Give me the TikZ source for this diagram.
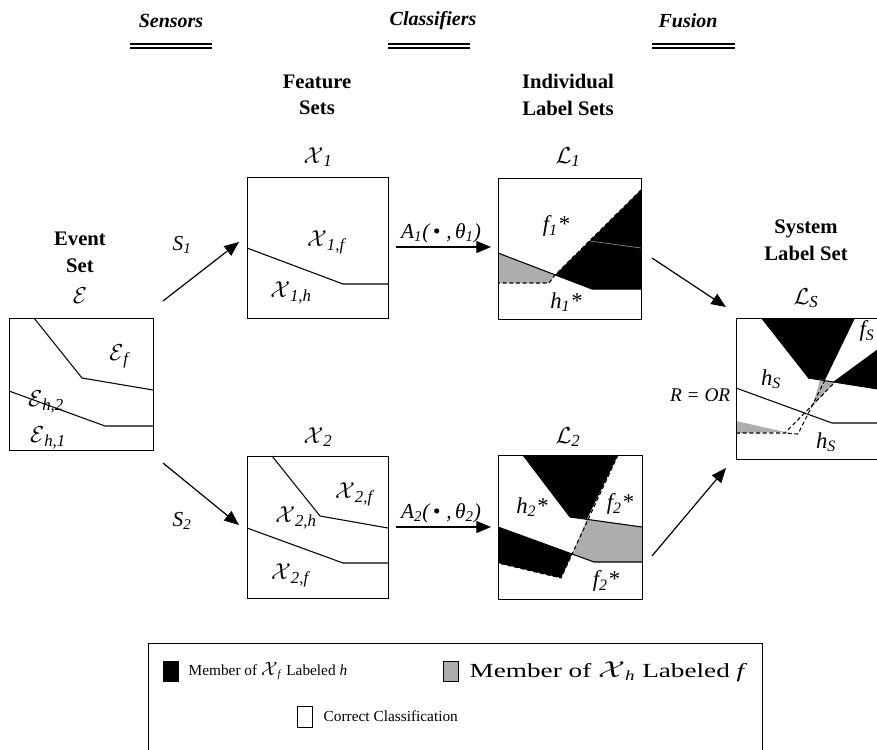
\documentclass[tikz,border=0pt]{standalone}
\usepackage{fontspec}
\usepackage{amsmath}
\setmainfont{Liberation Serif}
\usetikzlibrary{arrows.meta}
\newcommand{\scX}{\mathcal{X}}
\newcommand{\scE}{\mathcal{E}}
\newcommand{\scL}{\mathcal{L}}
\newcommand{\sub}[1]{\textsubscript{\textit{#1}}}
\begin{document}
\begin{tikzpicture}[x=0.75pt,y=-0.75pt,
  frame/.style={draw=black,line width=0.9pt,inner sep=0pt,anchor=north west},
  bound/.style={line width=0.8pt},
  cls/.style={line width=0.8pt,dash pattern=on 3pt off 2pt},
  flow/.style={line width=0.9pt,-{Triangle[length=11pt,width=9pt]}},
  hdr/.style={font=\fontsize{15}{17}\selectfont\bfseries\itshape},
  ttl/.style={font=\fontsize{15.5}{20}\selectfont\bfseries,align=center},
  setlbl/.style={font=\fontsize{18}{20}\selectfont},
  reg/.style={font=\fontsize{18}{20}\selectfont},
  cl/.style={font=\fontsize{17}{19}\selectfont\itshape},
  arrlbl/.style={font=\fontsize{16}{18}\selectfont\itshape},
  leg/.style={font=\fontsize{11.5}{13}\selectfont,anchor=west},
  sq/.style={draw=black,line width=0.7pt},
  dbl/.style={line width=0.8pt}]
\useasboundingbox (0,0) rectangle (877,749);

% ---------- headers ----------
\node[hdr] (hs) at (171,21) {Sensors};
\node[hdr] (hc) at (433,21) {Classifiers};
\node[hdr] (hf) at (688,21) {Fusion};
\draw[dbl] (130,44) -- (212,44) (130,48) -- (212,48);
\draw[dbl] (388,44) -- (470,44) (388,48) -- (470,48);
\draw[dbl] (652,44) -- (735,44) (652,48) -- (735,48);

\node[ttl] (tfeat) at (317,95) {Feature\\Sets};
\node[ttl] (tlab) at (568,95) {Individual\\Label Sets};
\node[ttl] (tev) at (80,252) {Event\\Set};
\node[ttl] (tsys) at (806,240) {System\\Label Set};

\node[setlbl] (sE) at (80,296) {$\scE$};
\node[setlbl] (sX1) at (318,157) {$\scX$\sub{1}};
\node[setlbl] (sL1) at (568,157) {$\scL$\sub{1}};
\node[setlbl] (sX2) at (318,437) {$\scX$\sub{2}};
\node[setlbl] (sL2) at (568,437) {$\scL$\sub{2}};
\node[setlbl] (sLS) at (806,298) {$\scL$\sub{S}};

% ---------- event box ----------
\begin{scope}[shift={(9,318)}]
  \draw[bound] (25,0) -- (73,60) -- (144,72);
  \draw[bound] (0,73) -- (96,108) -- (144,108);
\end{scope}
\node[frame,minimum width=108pt,minimum height=99pt] (ev) at (9,318) {};
\node[reg] (eEf) at (120,356) {$\scE$\sub{f}};
\node[reg] (eEh2) at (46,402) {$\scE$\sub{h,2}};
\node[reg] (eEh1) at (48,438) {$\scE$\sub{h,1}};

% ---------- feature box 1 ----------
\begin{scope}[shift={(247,177)}]
  \draw[bound] (0,71) -- (96,107) -- (141,107);
\end{scope}
\node[frame,minimum width=105.75pt,minimum height=105.75pt] (f1) at (247,177) {};
\node[reg] (x1f) at (327,242) {$\scX$\sub{1,f}};
\node[reg] (x1h) at (291,293) {$\scX$\sub{1,h}};

% ---------- feature box 2 ----------
\begin{scope}[shift={(247,456)}]
  \draw[bound] (25,0) -- (73,60) -- (141,72);
  \draw[bound] (0,72) -- (96,107) -- (141,107);
\end{scope}
\node[frame,minimum width=105.75pt,minimum height=106.5pt] (f2) at (247,456) {};
\node[reg] (x2fa) at (355,494) {$\scX$\sub{2,f}};
\node[reg] (x2h) at (296,518) {$\scX$\sub{2,h}};
\node[reg] (x2fb) at (291,575) {$\scX$\sub{2,f}};

% ---------- label box 1 ----------
\begin{scope}[shift={(498,178)}]
  \fill[black] (57,97) -- (143,12) -- (143,111) -- (94,111) -- cycle;
  \fill[black!32] (0,75) -- (57,97) -- (51,105) -- (0,105) -- cycle;
  \draw[black!45,line width=0.5pt] (92,63) -- (143,70);
  \draw[bound] (0,75) -- (94,111) -- (143,111);
  \draw[cls] (143,12) -- (57,97) -- (51,105) -- (0,105);
\end{scope}
\node[frame,minimum width=107.25pt,minimum height=105.75pt] (l1) at (498,178) {};
\node[cl] (f1s) at (556,226) {f\sub{1}*};
\node[cl] (h1s) at (566,302) {h\sub{1}*};

% ---------- label box 2 ----------
\begin{scope}[shift={(498,455)}]
  \fill[black] (25,0) -- (72,62) -- (89,64) -- (120,0) -- cycle;
  \fill[black] (0,72) -- (74,99) -- (63,123) -- (0,108) -- cycle;
  \fill[black!32] (89,64) -- (144,72) -- (144,107) -- (96,107) -- (74,99) -- cycle;
  \draw[bound] (25,0) -- (72,62) -- (144,72);
  \draw[bound] (0,72) -- (96,107) -- (144,107);
  \draw[cls] (120,0) -- (63,123) -- (0,108);
\end{scope}
\node[frame,minimum width=108pt,minimum height=108pt] (l2) at (498,455) {};
\node[cl] (h2s) at (532,507) {h\sub{2}*};
\node[cl] (f2sa) at (620,504) {f\sub{2}*};
\node[cl] (f2sb) at (606,581) {f\sub{2}*};

% ---------- system box ----------
\begin{scope}[shift={(736,318)}]
  \begin{scope}
    \clip (0,0) rectangle (142,141);
    \fill[black] (25,0) -- (72,60) -- (89,62) -- (119,0) -- cycle;
    \fill[black] (97,64) -- (142,31) -- (142,71) -- cycle;
    \fill[black!32] (84,62) -- (99,64) -- (77,87) -- cycle;
    \fill[black!32] (0,103) -- (49,114) -- (0,115) -- cycle;
  \end{scope}
  \draw[bound] (72,60) -- (142,71);
  \draw[bound] (0,70) -- (96,105) -- (142,105);
  \draw[cls] (0,115) -- (49,115) -- (99,64);
  \draw[cls] (89,62) -- (62,116) -- (49,115);
\end{scope}
\node[frame,minimum width=106.5pt,minimum height=105.75pt] (sy) at (736,318) {};
\node[cl] (hsa) at (771,379) {h\sub{S}};
\node[cl] (hsb) at (826,442) {h\sub{S}};
\node[cl] (fsl) at (867,331) {f\sub{S}};
\node[arrlbl,font=\fontsize{14.5}{16}\selectfont\itshape,anchor=east] (ror) at (735,395) {R = OR};

% ---------- arrows ----------
\coordinate (s1a) at (163,301); \coordinate (s1b) at (239,242);
\coordinate (s2a) at (163,463); \coordinate (s2b) at (239,525);
\coordinate (a1a) at (396,247); \coordinate (a1b) at (491,247);
\coordinate (a2a) at (396,527); \coordinate (a2b) at (491,527);
\coordinate (r1a) at (652,258); \coordinate (r1b) at (726,307);
\coordinate (r2a) at (652,556); \coordinate (r2b) at (726,468);
\draw[flow] (s1a) -- (s1b);
\draw[flow] (s2a) -- (s2b);
\draw[flow] (a1a) -- (a1b);
\draw[flow] (a2a) -- (a2b);
\draw[flow] (r1a) -- (r1b);
\draw[flow] (r2a) -- (r2b);
\node[arrlbl] (ls1) at (182,245) {S\sub{1}};
\node[arrlbl] (ls2) at (182,521) {S\sub{2}};
\node[arrlbl] (la1) at (441,233) {A\sub{1}(\,\textbullet\;,\,θ\sub{1})};
\node[arrlbl] (la2) at (441,513) {A\sub{2}(\,\textbullet\;,\,θ\sub{2})};

% ---------- legend ----------
\node[frame,minimum width=460.5pt,minimum height=81.75pt] (legbox) at (148,643) {};
\draw[sq,fill=black] (163,661) rectangle (178,681);
\node[leg] (lg1) at (184,671) {Member of {\fontsize{15}{15}\selectfont$\scX$}\sub{f} Labeled \textit{h}};
\draw[sq,fill=black!32] (443,661) rectangle (458,681);
\node[leg,font=\fontsize{15}{17}\selectfont] (lg2) at (465,672) {\scalebox{1.36}[1]{Member of {\fontsize{18}{18}\selectfont$\scX$}\sub{h} Labeled \textit{f}}};
\draw[sq,fill=white] (297,706) rectangle (312,727);
\node[leg] (lg3) at (319,716) {Correct Classification};
\end{tikzpicture}
\end{document}
